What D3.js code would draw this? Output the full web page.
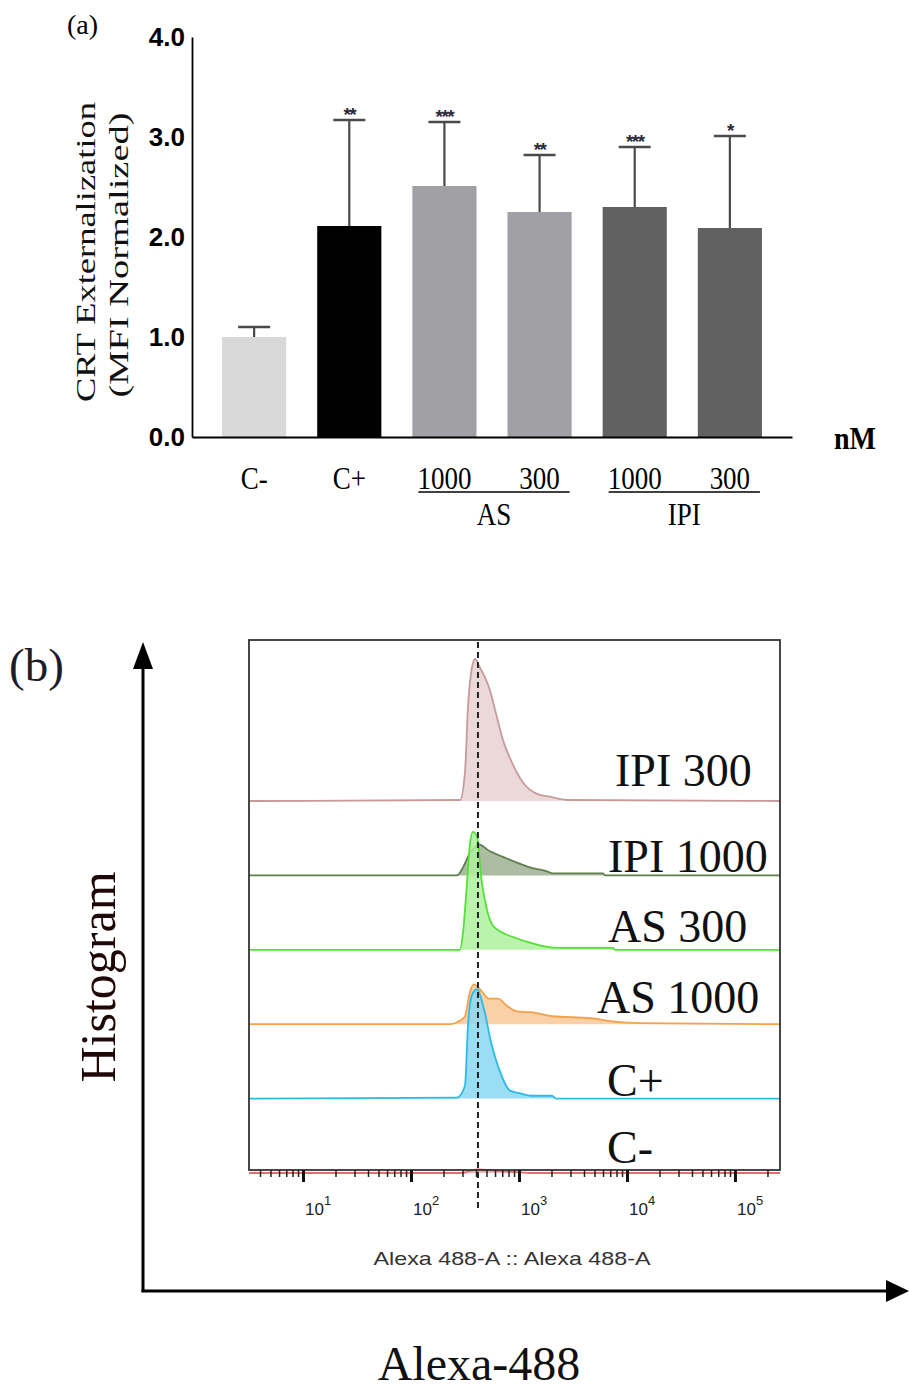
<!DOCTYPE html>
<html><head><meta charset="utf-8">
<script src="https://cdn.jsdelivr.net/npm/d3@7"></script>
<style>body{margin:0;background:#fff}</style>
</head><body>
<svg id="chart" width="909" height="1389" xmlns="http://www.w3.org/2000/svg"></svg>
<script>
// ---------- Panel (a) data ----------
const categories = ["C-", "C+", "AS 1000", "AS 300", "IPI 1000", "IPI 300"];
const meanValues = [1.00, 2.11, 2.51, 2.25, 2.30, 2.09];
const sdValues   = [0.10, 1.06, 0.64, 0.57, 0.60, 0.92];
const significance = ["", "**", "***", "**", "***", "*"];
const tickLabelsA = ["C-", "C+", "1000", "300", "1000", "300"];
const groupNames = ["AS", "IPI"];
const groupMembers = [["AS 1000", "AS 300"], ["IPI 1000", "IPI 300"]];
const yTicksA = [0, 1, 2, 3, 4];
const barColors = ["#d9d9d9", "#000000", "#a1a1a5", "#a1a1a5", "#616161", "#616161"];

// ---------- Panel (b) data (intensity, relative count) ----------
const sampleNames = ["IPI 300", "IPI 1000", "AS 300", "AS 1000", "C+", "C-"];
const histIPI300  = [[284,0.7],[316,20],[337,66],[367,94],[392,100],[435,94],[538,78],[625,59],[711,43],[861,27],[1090,13],[1468,5],[1935,3],[2846,0.7]];
const histIPI1000 = [[267,0],[303,5.6],[352,16],[392,20],[417,22],[538,17],[711,13],[958,9],[1264,5.6],[1816,2.8],[2066,1.4],[5995,1.4],[6256,0]];
const histAS300   = [[284,0],[303,12],[330,47],[352,75],[375,83],[408,80],[454,47],[506,28],[562,18],[667,13],[880,9],[1264,5],[1816,2],[2397,1.4],[7413,1.4],[7737,0]];
const histAS1000  = [[230,0],[267,1.4],[316,5.6],[352,23],[383,28],[454,23],[527,18],[640,18],[774,13],[958,9],[1291,8.5],[2021,5.6],[4645,4.2],[7261,2],[13190,0.7]];
const histCpos    = [[267,0.7],[316,9],[337,51],[367,73],[408,77],[474,63],[550,40],[667,19],[826,5.6],[1044,3.5],[1291,2],[2021,2],[2203,0]];
const histCneg    = [[297,0],[352,1.5],[417,2.5],[538,2],[740,1.2],[1021,0.5],[1264,0]];
const histograms = [histIPI300, histIPI1000, histAS300, histAS1000, histCpos, histCneg];
const strokeColors = ["#c79b9b", "#5f7f4d", "#55e03a", "#f4a24e", "#2bbbe8", "#ee6a6a"];
const fillColors   = ["#e8d2d2", "#9fb294", "#aef19c", "#f9c896", "#8ad8f2", "#f5a8a8"];
const gateValue = 417;
const decadeTicks = [10, 100, 1000, 10000, 100000];
const decadeExps = ["1", "2", "3", "4", "5"];

// label layout for panel (b)
const labelX  = [615, 608, 608, 597, 607, 607];
const labelDy = [-15, -3, -8, -11, -3, -10];

const svg = d3.select("#chart");
const serif = "'Liberation Serif','Times New Roman',serif";
const sans = "'Liberation Sans',Arial,sans-serif";

// ================= Panel (a) =================
const gA = svg.append("g");
const xA = d3.scaleBand().domain(categories).range([192, 792]).paddingInner(0.326).paddingOuter(0.316);
const yA = d3.scaleLinear().domain([0, 4]).range([437, 37]);
const bw = xA.bandwidth();

gA.append("text").attr("x", 67).attr("y", 34).attr("font-family", serif).attr("font-size", 28).text("(a)");

gA.selectAll("rect.bar").data(categories).enter().append("rect")
  .attr("class", "bar")
  .attr("x", d => xA(d)).attr("width", bw)
  .attr("y", (d, i) => yA(meanValues[i]))
  .attr("height", (d, i) => yA(0) - yA(meanValues[i]))
  .attr("fill", (d, i) => barColors[i]);

categories.forEach((c, i) => {
  const cx = xA(c) + bw / 2;
  const top = yA(meanValues[i] + sdValues[i]);
  gA.append("line").attr("x1", cx).attr("x2", cx).attr("y1", yA(meanValues[i])).attr("y2", top)
    .attr("stroke", "#4a4a4a").attr("stroke-width", 2.2);
  gA.append("line").attr("x1", cx - 16).attr("x2", cx + 16).attr("y1", top).attr("y2", top)
    .attr("stroke", "#4a4a4a").attr("stroke-width", 2.6);
  if (significance[i]) {
    gA.append("text").attr("x", cx).attr("y", top + 1).attr("text-anchor", "middle")
      .attr("font-family", sans).attr("font-weight", "bold").attr("font-size", 19)
      .attr("letter-spacing", -1.5).attr("fill", "#2a2a3a").text(significance[i]);
  }
});

const yAxisA = d3.axisLeft(yA).tickValues(yTicksA).tickFormat(d3.format(".1f")).tickSize(0).tickPadding(7);
const gy = gA.append("g").attr("transform", "translate(192,0)").call(yAxisA);
gy.select(".domain").attr("stroke", "#000").attr("stroke-width", 1.8);
gy.selectAll("text").attr("font-family", sans).attr("font-weight", "bold").attr("font-size", 26).attr("fill", "#000");

const xAxisA = d3.axisBottom(xA).tickSize(0).tickFormat("");
const gx = gA.append("g").attr("transform", "translate(0,437)").call(xAxisA);
gx.select(".domain").attr("stroke", "#000").attr("stroke-width", 1.8);

categories.forEach((c, i) => {
  const cx = xA(c) + bw / 2;
  gA.append("text").attr("transform", `translate(${cx},489) scale(1,1.15)`)
    .attr("text-anchor", "middle").attr("font-family", serif).attr("font-size", 27).text(tickLabelsA[i]);
});
groupNames.forEach((g, k) => {
  const m = groupMembers[k];
  const x1 = xA(m[0]) + 6, x2 = xA(m[m.length - 1]) + bw - 2;
  gA.append("line").attr("x1", x1).attr("x2", x2).attr("y1", 492).attr("y2", 492).attr("stroke", "#000").attr("stroke-width", 1.6);
  gA.append("text").attr("transform", `translate(${(x1 + x2) / 2},525) scale(1,1.15)`)
    .attr("text-anchor", "middle").attr("font-family", serif).attr("font-size", 27).text(g);
});
gA.append("text").attr("transform", "translate(834,449) scale(1,1.1)").attr("font-family", serif)
  .attr("font-weight", "bold").attr("font-size", 28).text("nM");

gA.append("text").attr("transform", "translate(95,252) rotate(-90)").attr("text-anchor", "middle")
  .attr("font-family", serif).attr("font-size", 27).attr("textLength", 300).attr("lengthAdjust", "spacingAndGlyphs")
  .attr("fill", "#111").text("CRT Externalization");
gA.append("text").attr("transform", "translate(128,255) rotate(-90)").attr("text-anchor", "middle")
  .attr("font-family", serif).attr("font-size", 27).attr("textLength", 285).attr("lengthAdjust", "spacingAndGlyphs")
  .attr("fill", "#111").text("(MFI Normalized)");

// ================= Panel (b) =================
const gB = svg.append("g");
const box = {x: 249, y: 640, w: 531, h: 530};
const xB = d3.scaleLog().domain([Math.pow(10, 0.5), Math.pow(10, 5.417)]).range([box.x, box.x + box.w]);
const rowY = d3.scalePoint().domain(sampleNames).range([801, 1173]);
const hB = d3.scaleLinear().domain([0, 100]).range([0, 142]);

gB.append("text").attr("x", 9).attr("y", 681).attr("font-family", serif).attr("font-size", 47).attr("fill", "#1c1c2c").text("(b)");

const defs = svg.append("defs");
defs.append("clipPath").attr("id", "boxclip").append("rect")
  .attr("x", box.x).attr("y", box.y).attr("width", box.w).attr("height", box.h + 5);

gB.append("line").attr("x1", 143).attr("x2", 143).attr("y1", 1292).attr("y2", 665).attr("stroke", "#000").attr("stroke-width", 3);
gB.append("path").attr("d", "M143,642 L133,669 L153,669 Z").attr("fill", "#000");
gB.append("line").attr("x1", 141.5).attr("x2", 888).attr("y1", 1291).attr("y2", 1291).attr("stroke", "#000").attr("stroke-width", 3);
gB.append("path").attr("d", "M909,1291 L886,1280 L886,1302 Z").attr("fill", "#000");

gB.append("text").attr("transform", "translate(115,977) rotate(-90)").attr("text-anchor", "middle")
  .attr("font-family", serif).attr("font-size", 50).attr("fill", "#200808").text("Histogram");
gB.append("text").attr("x", 479).attr("y", 1380).attr("text-anchor", "middle")
  .attr("font-family", serif).attr("font-size", 48).attr("fill", "#111").text("Alexa-488");

const gH = gB.append("g").attr("clip-path", "url(#boxclip)");
const [dMin, dMax] = xB.domain();
sampleNames.forEach((s, i) => {
  const base = rowY(s);
  const pts = [[dMin, 0]].concat(histograms[i]).concat([[dMax, 0]]);
  const area = d3.area().curve(d3.curveMonotoneX).x(d => xB(d[0])).y0(base).y1(d => base - hB(d[1]));
  const line = d3.line().curve(d3.curveMonotoneX).x(d => xB(d[0])).y(d => base - hB(d[1]));
  gH.append("path").attr("d", area(pts)).attr("fill", fillColors[i]).attr("fill-opacity", 0.85);
  gH.append("path").attr("d", line(pts)).attr("fill", "none").attr("stroke", strokeColors[i]).attr("stroke-width", 1.8);
});

gB.append("rect").attr("x", box.x).attr("y", box.y).attr("width", box.w).attr("height", box.h)
  .attr("fill", "none").attr("stroke", "#333").attr("stroke-width", 1.8);

const minorTicks = xB.ticks().filter(v => Math.abs(Math.log10(v) - Math.round(Math.log10(v))) > 1e-6);
const axMinor = d3.axisBottom(xB).tickValues(minorTicks).tickSize(7).tickSizeOuter(0).tickFormat("");
const gMin = gB.append("g").attr("transform", `translate(0,${box.y + box.h})`).call(axMinor);
gMin.select(".domain").remove();
gMin.selectAll("line").attr("stroke", "#222").attr("stroke-width", 1.5);
const axMajor = d3.axisBottom(xB).tickValues(decadeTicks).tickSize(12).tickFormat("");
const gMaj = gB.append("g").attr("transform", `translate(0,${box.y + box.h})`).call(axMajor);
gMaj.select(".domain").remove();
gMaj.selectAll("line").attr("stroke", "#111").attr("stroke-width", 3);

decadeTicks.forEach((v, i) => {
  const t = gB.append("text").attr("x", xB(v) + 2).attr("y", 1215).attr("font-family", sans)
    .attr("font-size", 17).attr("fill", "#222");
  t.append("tspan").text("10");
  t.append("tspan").attr("dy", -10).attr("font-size", 13).text(decadeExps[i]);
});

gB.append("text").attr("x", 512).attr("y", 1265).attr("text-anchor", "middle")
  .attr("font-family", sans).attr("font-size", 19).attr("fill", "#333")
  .attr("textLength", 277).attr("lengthAdjust", "spacingAndGlyphs").text("Alexa 488-A :: Alexa 488-A");

gB.append("line").attr("x1", xB(gateValue)).attr("x2", xB(gateValue)).attr("y1", box.y + 2).attr("y2", 1210)
  .attr("stroke", "#222").attr("stroke-width", 2).attr("stroke-dasharray", "6,4");

sampleNames.forEach((s, i) => {
  gB.append("text").attr("x", labelX[i]).attr("y", rowY(s) + labelDy[i])
    .attr("font-family", serif).attr("font-size", 46).attr("fill", "#111").text(s);
});
</script>
</body></html>
